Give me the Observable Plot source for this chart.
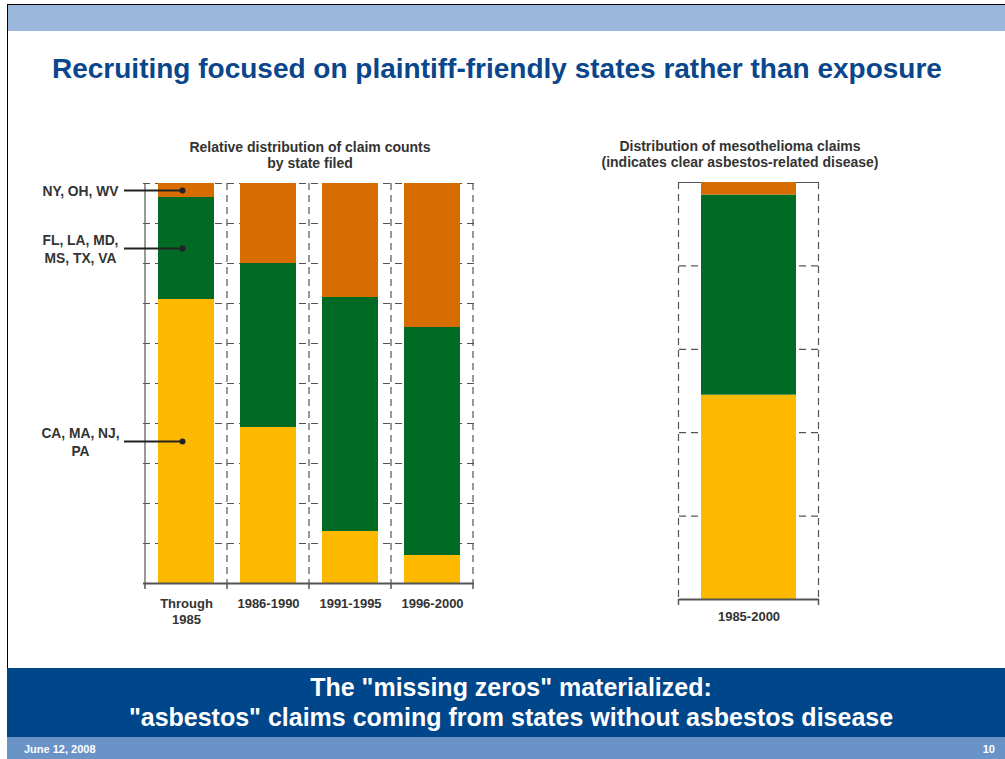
<!DOCTYPE html>
<html>
<head>
<meta charset="utf-8">
<script src="https://cdn.jsdelivr.net/npm/d3@7"></script>
<script src="https://cdn.jsdelivr.net/npm/@observablehq/plot@0.6"></script>
<style>
  html, body { margin: 0; padding: 0; background: #fff; }
  body { width: 1005px; height: 759px; position: relative; overflow: hidden;
         font-family: "Liberation Sans", Arial, Helvetica, sans-serif; }
  .abs { position: absolute; }
  #title { left: 52px; top: 52px; font-size: 28px; line-height: 34px; font-weight: bold; color: #0a468b; white-space: nowrap; }
  .sub { font-size: 14px; line-height: 16px; font-weight: bold; color: #333; text-align: center; white-space: nowrap; }
  #footer { left: 17px; top: 672px; width: 988px; text-align: center; color: #fff; font-weight: bold; font-size: 25px; line-height: 30px; white-space: nowrap; }
  #date { left: 24px; top: 743px; font-size: 11px; line-height: 12px; color: #fff; font-weight: bold; }
  #page { right: 10px; top: 743px; font-size: 11px; line-height: 12px; color: #fff; font-weight: bold; }
</style>
</head>
<body>
<div class="abs" style="left:7px;top:5px;width:998px;height:26px;background:#9bb7db"></div>
<div class="abs" style="left:7px;top:4px;width:998px;height:1px;background:#000"></div>
<div class="abs" style="left:7px;top:4px;width:1px;height:664px;background:#000"></div>
<div class="abs" id="title">Recruiting focused on plaintiff-friendly states rather than exposure</div>

<div class="abs sub" style="left:160px;top:139px;width:300px">Relative distribution of claim counts<br>by state filed</div>
<div class="abs sub" style="left:580px;top:138px;width:320px">Distribution of mesothelioma claims<br>(indicates clear asbestos-related disease)</div>

<div class="abs" id="left" style="left:0px;top:130px"></div>
<div class="abs" id="right" style="left:580px;top:130px"></div>

<div class="abs" style="left:7px;top:668px;width:998px;height:69px;background:#00468b"></div>
<div class="abs" style="left:7px;top:737px;width:998px;height:22px;background:#6a93c8"></div>
<div class="abs" id="footer">The "missing zeros" materialized:<br>"asbestos" claims coming from states without asbestos disease</div>
<div class="abs" id="date">June 12, 2008</div>
<div class="abs" id="page">10</div>

<script>
// ---------------- data ----------------
const categories = ["Through 1985", "1986-1990", "1991-1995", "1996-2000"];
const categoryLabels = ["Through\n1985", "1986-1990", "1991-1995", "1996-2000"];
const groups = ["CA, MA, NJ, PA", "FL, LA, MD, MS, TX, VA", "NY, OH, WV"];
const groupLabels = ["CA, MA, NJ,\nPA", "FL, LA, MD,\nMS, TX, VA", "NY, OH, WV"];
const groupColors = ["#fdb900", "#016a24", "#d76d00"];

// share of claim counts (%), by state group
const caMaNjPa = [71, 39, 13, 7];
const flLaMdMsTxVa = [25.5, 41, 58.5, 57];
const nyOhWv = [3.5, 20, 28.5, 36];

// mesothelioma claims 1985-2000 (%)
const mesoCategory = ["1985-2000"];
const mesoValues = [49, 48, 3];

const gridLeft = [10, 20, 30, 40, 50, 60, 70, 80, 90];
const gridRight = [20, 40, 60, 80];

// ---------------- tables ----------------
const series = [caMaNjPa, flLaMdMsTxVa, nyOhWv];
const rows = [];
categories.forEach((c, i) => groups.forEach((g, j) => rows.push({category: c, group: g, value: series[j][i]})));
const mesoRows = groups.map((g, j) => ({category: mesoCategory[0], group: g, value: mesoValues[j]}));

let cum = 0;
const annot = groups.map((g, j) => {
  const v = series[j][0];
  const mid = cum + v / 2;
  cum += v;
  return {group: g, label: groupLabels[j], mid};
});

const font = '"Liberation Sans", Arial, Helvetica, sans-serif';
const axisColor = "#555";
const dash = "7,5";

function bandInfo(x) {
  const bw = typeof x.bandwidth === "function" ? x.bandwidth() : x.bandwidth;
  const step = typeof x.step === "function" ? x.step() : x.step;
  return {bw, step};
}

// vertical frame / boundary lines drawn from the x scale
function boundaries(cats, solidFirst) {
  return (index, scales) => {
    const x = scales.x, y = scales.y;
    const {bw, step} = bandInfo(x);
    const edges = cats.map(c => x(c) - (step - bw) / 2);
    edges.push(edges[edges.length - 1] + step);
    const g = d3.create("svg:g");
    edges.forEach((ex, i) => {
      const l = g.append("line")
        .attr("x1", ex).attr("x2", ex)
        .attr("y1", y(100)).attr("y2", y(0))
        .attr("stroke", axisColor).attr("stroke-width", 1.2);
      if (!(solidFirst && i === 0)) l.attr("stroke-dasharray", dash);
    });
    return g.node();
  };
}
function edgeTicks(cats) {
  return (index, scales) => {
    const x = scales.x, y = scales.y;
    const {bw, step} = bandInfo(x);
    const edges = cats.map(c => x(c) - (step - bw) / 2);
    edges.push(edges[edges.length - 1] + step);
    const g = d3.create("svg:g");
    edges.forEach(ex => {
      g.append("line").attr("x1", ex).attr("x2", ex)
        .attr("y1", y(0)).attr("y2", y(0) + 6)
        .attr("stroke", axisColor).attr("stroke-width", 1.5);
    });
    return g.node();
  };
}

// ---------------- left chart ----------------
const left = Plot.plot({
  width: 480, height: 510,
  marginLeft: 143, marginRight: 6, marginTop: 53, marginBottom: 57,
  x: {domain: categories, paddingInner: 0.32, paddingOuter: 0.16, axis: null},
  y: {domain: [0, 100], axis: null},
  color: {domain: groups, range: groupColors},
  style: {fontFamily: font, fontSize: "12px", background: "transparent", overflow: "visible"},
  marks: [
    Plot.gridY(gridLeft, {stroke: axisColor, strokeOpacity: 1, strokeWidth: 1.2, strokeDasharray: dash}),
    Plot.ruleY([100], {stroke: axisColor, strokeWidth: 1.2, strokeDasharray: dash}),
    boundaries(categories, true),
    Plot.barY(rows, {x: "category", y: "value", fill: "group", order: groups}),
    Plot.ruleY([0], {stroke: axisColor, strokeWidth: 2}),
    edgeTicks(categories),
    Plot.text(categories, {x: d => d, text: (d, i) => categoryLabels[i], frameAnchor: "bottom", dy: 13,
      lineAnchor: "top", lineHeight: 1.25, fontWeight: "bold", fontSize: 13, fill: "#333"}),
    Plot.ruleY(annot, {y: "mid", insetLeft: -19, insetRight: 294, stroke: "#222", strokeWidth: 2}),
    Plot.dot(annot, {x: () => categories[0], y: "mid", dx: -4, r: 3, fill: "#222", stroke: "none"}),
    Plot.text(annot, {x: () => categories[0], y: "mid", text: "label", dx: -106, textAnchor: "middle",
      lineAnchor: "middle", lineHeight: 1.3, fontWeight: "bold", fontSize: 13.8, fill: "#333"})
  ]
});
document.getElementById("left").appendChild(left);

// ---------------- right chart ----------------
const right = Plot.plot({
  width: 425, height: 510,
  marginLeft: 99, marginRight: 186, marginTop: 52, marginBottom: 41,
  x: {domain: mesoCategory, paddingInner: 0.32, paddingOuter: 0.16, axis: null},
  y: {domain: [0, 100], axis: null},
  color: {domain: groups, range: groupColors},
  style: {fontFamily: font, fontSize: "12px", background: "transparent", overflow: "visible"},
  marks: [
    Plot.gridY(gridRight, {stroke: axisColor, strokeOpacity: 1, strokeWidth: 1.2, strokeDasharray: dash}),
    boundaries(mesoCategory, false),
    Plot.ruleY([100], {stroke: axisColor, strokeWidth: 1.2}),
    Plot.barY(mesoRows, {x: "category", y: "value", fill: "group", order: groups}),
    Plot.ruleY([0], {stroke: axisColor, strokeWidth: 2}),
    edgeTicks(mesoCategory),
    Plot.text(mesoCategory, {x: d => d, text: d => d, frameAnchor: "bottom", dy: 12,
      lineAnchor: "top", fontWeight: "bold", fontSize: 13, fill: "#333"})
  ]
});
document.getElementById("right").appendChild(right);
</script>
</body>
</html>
